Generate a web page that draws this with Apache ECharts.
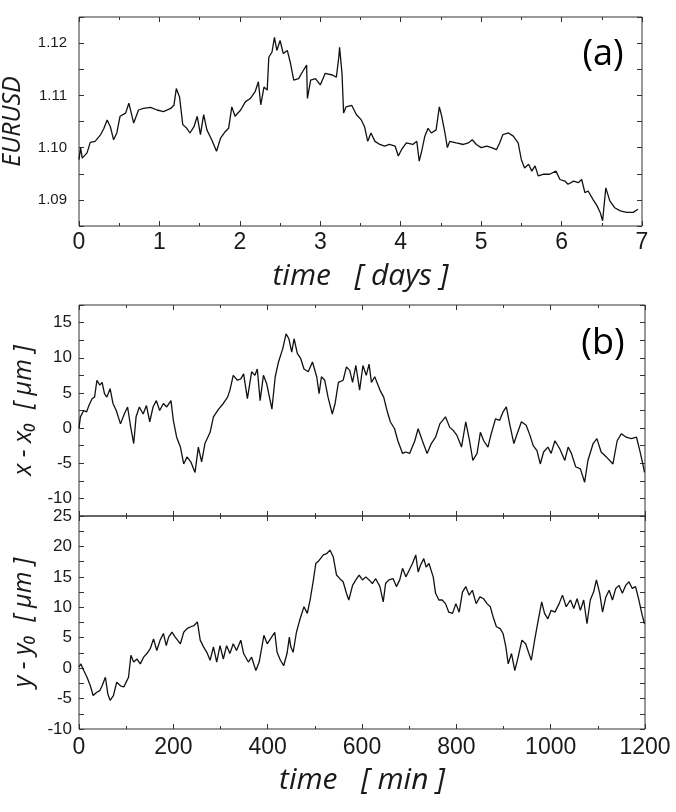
<!DOCTYPE html>
<html>
<head>
<meta charset="utf-8">
<script src="https://cdn.jsdelivr.net/npm/echarts@6.0.0/dist/echarts.min.js"></script>
<style>
  html, body { margin: 0; padding: 0; background: #fff; }
  #chart { width: 676px; height: 812px; }
</style>
</head>
<body>
<div id="chart"></div>
<script>
// (a) EURUSD over one week
const eurDays = [0, 0.02, 0.04, 0.10, 0.14, 0.20, 0.27, 0.31, 0.35, 0.39, 0.43, 0.47, 0.51, 0.58, 0.62, 0.68, 0.74, 0.80, 0.89, 0.97,
  1.05, 1.14, 1.18, 1.21, 1.25, 1.29, 1.34, 1.38, 1.43, 1.47, 1.51, 1.55, 1.59, 1.65, 1.71, 1.76, 1.82, 1.86, 1.90, 1.94,
  2.01, 2.07, 2.13, 2.19, 2.23, 2.26, 2.30, 2.34, 2.36, 2.40, 2.43, 2.46, 2.50, 2.54, 2.59, 2.63, 2.67, 2.73, 2.79, 2.83, 2.84, 2.88, 2.94,
  3.00, 3.06, 3.15, 3.20, 3.23, 3.24, 3.27, 3.29, 3.32, 3.39, 3.45, 3.51, 3.55, 3.59, 3.63, 3.68, 3.74, 3.80, 3.86, 3.93, 3.97,
  4.01, 4.07, 4.15, 4.20, 4.23, 4.26, 4.30, 4.34, 4.38, 4.44, 4.48, 4.51, 4.55, 4.58, 4.61, 4.69, 4.78, 4.84, 4.89, 4.94,
  5.00, 5.07, 5.13, 5.19, 5.23, 5.27, 5.34, 5.40, 5.46, 5.50, 5.54, 5.59, 5.63, 5.67, 5.71, 5.77, 5.85, 5.93, 5.98,
  6.04, 6.08, 6.15, 6.21, 6.25, 6.29, 6.33, 6.39, 6.44, 6.48, 6.51, 6.55, 6.60, 6.66, 6.73, 6.81, 6.89, 6.95];
const eurRate = [1.0977, 1.1000, 1.0980, 1.0990, 1.1010, 1.1012, 1.1025, 1.1037, 1.1053, 1.1040, 1.1015, 1.1028, 1.1060, 1.1066, 1.1085, 1.1047, 1.1072, 1.1075, 1.1077, 1.1072,
  1.1069, 1.1075, 1.1081, 1.1113, 1.1097, 1.1044, 1.1037, 1.1028, 1.1040, 1.1060, 1.1025, 1.1063, 1.1034, 1.1015, 1.0993, 1.1018, 1.1031, 1.1037, 1.1078, 1.1060,
  1.1072, 1.1088, 1.1094, 1.1107, 1.1126, 1.1082, 1.1116, 1.1110, 1.1173, 1.1183, 1.1211, 1.1186, 1.1205, 1.1180, 1.1186, 1.1161, 1.1129, 1.1132, 1.1148, 1.1158, 1.1094, 1.1129, 1.1132,
  1.1120, 1.1142, 1.1139, 1.1135, 1.1173, 1.1192, 1.1142, 1.1066, 1.1078, 1.1081, 1.1063, 1.1053, 1.1040, 1.1012, 1.1028, 1.1012, 1.1006, 1.1003, 1.1006, 1.1003, 1.0984,
  1.0996, 1.1009, 1.1006, 1.1012, 1.0974, 1.0993, 1.1022, 1.1037, 1.1028, 1.1034, 1.1078, 1.1060, 1.1028, 1.1000, 1.1012, 1.1009, 1.1006, 1.1009, 1.1015, 1.1006,
  1.1000, 1.1003, 1.1000, 1.0996, 1.1009, 1.1025, 1.1028, 1.1022, 1.1009, 1.0977, 1.0961, 1.0968, 1.0955, 1.0965, 1.0946, 1.0949, 1.0949, 1.0955, 1.0939,
  1.0936, 1.0930, 1.0936, 1.0933, 1.0939, 1.0914, 1.0917, 1.0901, 1.0889, 1.0876, 1.0860, 1.0923, 1.0898, 1.0885, 1.0879, 1.0876, 1.0876, 1.0882];

// (b) particle position, x component
const xTime = [0, 3, 10, 16, 21, 28, 33, 38, 44, 49, 54, 59, 66, 72, 79, 88, 96, 103, 109, 116, 121, 128, 136, 143, 150, 157, 164, 171, 179, 186, 195,
  200, 207, 215, 222, 229, 237, 246, 253, 260, 267, 278, 285, 296, 306, 315, 320, 327, 336, 343, 349, 357, 366, 373, 378, 384, 391, 398,
  409, 416, 423, 432, 439, 445, 451, 456, 463, 470, 477, 486, 495, 504, 509, 514, 521, 528, 537, 543, 550, 560, 567, 574, 580, 587, 595,
  602, 609, 615, 620, 627, 638, 646, 653, 660, 669, 676, 686, 693, 701, 712, 719, 728, 738, 747, 756, 765, 777, 786, 793,
  801, 811, 820, 828, 835, 844, 851, 858, 867, 874, 883, 892, 899, 906, 913, 922, 929, 938, 948, 956, 963, 971, 978, 985, 994,
  1001, 1009, 1019, 1030, 1037, 1044, 1053, 1063, 1072, 1079, 1090, 1098, 1107, 1118, 1132, 1141, 1150, 1160, 1171, 1182, 1189, 1196, 1199];
const xDisp = [0, 1.6, 2.5, 2.3, 3.2, 4.2, 4.4, 6.8, 6.1, 6.5, 4.9, 4.4, 5.6, 3.5, 2.5, 0.6, 2.0, 3.0, 0.4, -2.2, 1.6, 3.0, 2.0, 3.2, 0.9, 3.0, 3.9, 2.5, 3.5, 3.0, 3.9,
  1.1, -1.3, -2.7, -5.1, -4.1, -4.8, -6.3, -2.7, -4.8, -2.2, -0.6, 1.6, 2.7, 3.5, 4.4, 5.4, 7.5, 6.8, 7.0, 7.7, 4.2, 8.0, 7.5, 8.4, 3.9, 7.5, 6.3,
  2.7, 7.3, 9.4, 11.3, 13.4, 12.7, 10.8, 12.7, 10.6, 9.9, 8.4, 8.0, 9.4, 7.3, 4.9, 7.3, 6.8, 4.4, 2.0, 3.5, 6.5, 6.8, 8.7, 8.2, 6.5, 8.9, 5.4,
  8.9, 7.5, 9.1, 6.5, 7.3, 5.4, 4.4, 2.5, 0.9, -0.1, -1.8, -3.6, -3.4, -3.6, -1.8, -0.1, -1.8, -3.6, -2.2, -1.3, 0.6, 1.6, 0.1, -0.3,
  -1.0, -2.7, 0.9, -1.8, -4.6, -3.6, -0.6, -1.8, -2.7, -0.8, 1.3, 1.1, 2.3, 3.0, 0.6, -2.2, -0.8, 0.9, 0.4, -1.0, -2.5, -3.2, -5.1, -3.4, -2.7,
  -3.6, -1.8, -2.9, -4.6, -2.7, -3.6, -5.5, -5.8, -7.7, -4.6, -2.2, -1.5, -3.4, -4.1, -5.1, -1.8, -0.8, -1.3, -1.5, -1.3, -3.2, -5.3, -6.3];

// (b) particle position, y component
const yTime = [0, 4, 10, 17, 24, 30, 37, 44, 49, 56, 61, 66, 73, 80, 88, 95, 100, 105, 110, 116, 123, 130, 137, 144, 151, 158, 165, 172, 179, 185, 190, 197,
  204, 215, 222, 229, 237, 244, 251, 257, 264, 271, 278, 285, 292, 299, 306, 313, 320, 327, 334, 343, 349, 359, 366, 375, 382, 392, 399,
  406, 415, 420, 427, 434, 441, 446, 449, 454, 461, 468, 477, 484, 490, 497, 502, 509, 518, 525, 532, 539, 546, 553, 560, 567, 572, 580, 587, 594,
  601, 608, 615, 622, 629, 638, 645, 650, 657, 666, 673, 680, 686, 693, 700, 707, 714, 719, 724, 731, 736, 742, 751, 756, 763, 770, 777, 784, 792, 799,
  806, 813, 820, 827, 834, 842, 850, 858, 865, 872, 878, 885, 893, 899, 905, 910, 917, 924, 931, 939, 947, 953, 959, 966, 973, 981, 987, 994,
  1001, 1009, 1018, 1025, 1033, 1042, 1049, 1056, 1063, 1070, 1077, 1084, 1091, 1097, 1104, 1110, 1117, 1124, 1131, 1138, 1145, 1152, 1159, 1166, 1173, 1180, 1187, 1194, 1199];
const yDisp = [0.2, 0.7, -0.4, -1.5, -2.9, -4.5, -4.0, -3.7, -2.9, -1.5, -4.2, -5.3, -4.5, -2.3, -2.9, -3.1, -2.3, -1.5, 2.1, 1.0, 1.5, 0.7, 1.8, 2.4, 3.2, 4.8, 2.9, 4.6, 5.7, 3.7, 5.1, 5.9,
  5.1, 4.0, 5.9, 6.5, 6.8, 7.0, 7.6, 4.6, 3.5, 2.6, 1.3, 3.5, 1.0, 3.7, 1.5, 3.7, 2.4, 4.0, 2.9, 4.6, 2.4, 1.0, 1.8, -0.4, 1.0, 5.4, 4.0,
  4.8, 5.9, 2.6, 1.3, 0.4, 2.4, 5.1, 3.5, 2.6, 5.9, 7.9, 10.1, 9.0, 11.2, 14.5, 17.2, 17.7, 18.6, 18.8, 19.4, 18.3, 15.3, 14.7, 14.2, 12.3, 11.2, 13.6, 14.5, 15.3,
  14.5, 15.0, 14.5, 13.9, 14.7, 13.4, 10.9, 13.9, 14.5, 14.7, 13.4, 14.5, 16.4, 15.0, 16.1, 17.2, 18.6, 15.8, 16.9, 18.0, 16.6, 17.2, 15.0, 12.3, 11.2, 11.2, 10.6, 9.2, 9.0, 10.6,
  9.2, 12.5, 13.4, 12.0, 12.8, 10.6, 11.7, 11.4, 10.6, 10.1, 8.4, 6.8, 6.5, 5.7, 3.5, 0.7, 2.4, -0.4, 1.8, 4.6, 4.0, 2.6, 1.3, 4.6, 7.6, 10.9, 9.0, 8.1,
  9.5, 9.2, 10.6, 12.0, 10.1, 11.2, 9.8, 11.4, 9.5, 11.2, 7.3, 11.2, 12.5, 14.5, 12.3, 9.2, 11.7, 12.8, 11.2, 13.1, 13.6, 12.3, 13.6, 14.2, 13.1, 13.4, 11.2, 8.7, 7.3];

const dayTicks = { min: 0, max: 7, interval: 1 };
const minTicks = { min: 0, max: 1200, interval: 200 };
const eurTicks = { min: 1.085, max: 1.125, interval: 0.005 };
const xDispTicks = { min: -12.5, max: 17.5, interval: 2.5 };
const yDispTicks = { min: -10, max: 25, interval: 2.5 };

const tickFont = "Liberation Sans";
const titleFont = "Open Sans";
const ink = "#1a1a1a";

function pairs(xs, ys) {
  return xs.map((x, i) => [x, ys[i]]);
}

function axis(gridIndex, position, ticks, label, extra) {
  return Object.assign({
    type: "value",
    gridIndex: gridIndex,
    position: position,
    min: ticks.min,
    max: ticks.max,
    interval: ticks.interval,
    axisLine: { show: false, onZero: false },
    axisTick: { show: true, inside: true, length: 5, lineStyle: { color: "#333" } },
    splitLine: { show: false },
    axisLabel: label ? Object.assign({ color: ink, fontFamily: tickFont, formatter: (v) => String(v) }, label) : { show: false },
  }, extra || {});
}

// only every second tick gets a number
const halfLabel = (digits) => (v) => {
  if (digits === 2) return Math.round(v / 0.005) % 2 === 0 ? v.toFixed(2) : "";
  return Math.round(v * 10) % 50 === 0 ? String(Math.round(v)) : "";
};

const minor = { show: true, splitNumber: 2, length: 3, lineStyle: { color: "#333" } };

const nameStyle = { fontFamily: titleFont, fontStyle: "italic", color: ink };

const gridBox = { show: true, borderColor: "#333", borderWidth: 1, outerBoundsMode: "none", containLabel: false };

let myChart = echarts.init(document.getElementById("chart"), null, { renderer: "canvas" });

let option = {
  backgroundColor: "#fff",
  animation: false,
  grid: [
    Object.assign({ left: 79, top: 17, width: 563, height: 209 }, gridBox),
    Object.assign({ left: 79, top: 305, width: 566, height: 211 }, gridBox),
    Object.assign({ left: 79, top: 516, width: 566, height: 213 }, gridBox),
  ],
  xAxis: [
    axis(0, "bottom", dayTicks, { fontSize: 23, margin: 5 }, {
      minorTick: minor,
      name: "time   [ days ]",
      nameLocation: "middle",
      nameGap: 35,
      nameTextStyle: Object.assign({ fontSize: 30 }, nameStyle),
    }),
    axis(0, "top", dayTicks, null, { minorTick: minor }),
    axis(1, "bottom", minTicks, null, { minorTick: minor }),
    axis(1, "top", minTicks, null, { minorTick: minor }),
    axis(2, "bottom", minTicks, { fontSize: 23, margin: 7 }, {
      minorTick: minor,
      name: "time   [ min ]",
      nameLocation: "middle",
      nameGap: 36,
      nameTextStyle: Object.assign({ fontSize: 30 }, nameStyle),
    }),
    axis(2, "top", minTicks, null, { minorTick: minor }),
  ],
  yAxis: [
    axis(0, "left", eurTicks, { fontSize: 15, margin: 12, formatter: halfLabel(2) }, {
      name: "EURUSD",
      nameLocation: "middle",
      nameGap: 54,
      nameTextStyle: Object.assign({ fontSize: 25 }, nameStyle),
    }),
    axis(0, "right", eurTicks, null),
    axis(1, "left", xDispTicks, { fontSize: 17, margin: 7, formatter: halfLabel(0) }, {
      name: "x - x\u2080  [ \u03bcm ]",
      nameLocation: "middle",
      nameGap: 33,
      nameTextStyle: Object.assign({ fontSize: 25 }, nameStyle),
    }),
    axis(1, "right", xDispTicks, null),
    axis(2, "left", yDispTicks, { fontSize: 17, margin: 7, formatter: halfLabel(0) }, {
      name: "y - y\u2080  [ \u03bcm ]",
      nameLocation: "middle",
      nameGap: 33,
      nameTextStyle: Object.assign({ fontSize: 25 }, nameStyle),
    }),
    axis(2, "right", yDispTicks, null),
  ],
  series: [
    { name: "EURUSD", type: "line", xAxisIndex: 0, yAxisIndex: 0, data: pairs(eurDays, eurRate) },
    { name: "x - x0", type: "line", xAxisIndex: 2, yAxisIndex: 2, data: pairs(xTime, xDisp) },
    { name: "y - y0", type: "line", xAxisIndex: 4, yAxisIndex: 4, data: pairs(yTime, yDisp) },
  ].map((s) => Object.assign(s, {
    symbol: "none",
    showSymbol: false,
    lineStyle: { color: "#111", width: 1.3 },
  })),
  graphic: [
    { type: "text", x: 603, y: 55, style: { text: "(a)", font: "36px 'Open Sans'", fill: "#000", textAlign: "center", textVerticalAlign: "middle" } },
    { type: "text", x: 603, y: 344, style: { text: "(b)", font: "36px 'Open Sans'", fill: "#000", textAlign: "center", textVerticalAlign: "middle" } },
  ],
};

myChart.setOption(option);
</script>
</body>
</html>
